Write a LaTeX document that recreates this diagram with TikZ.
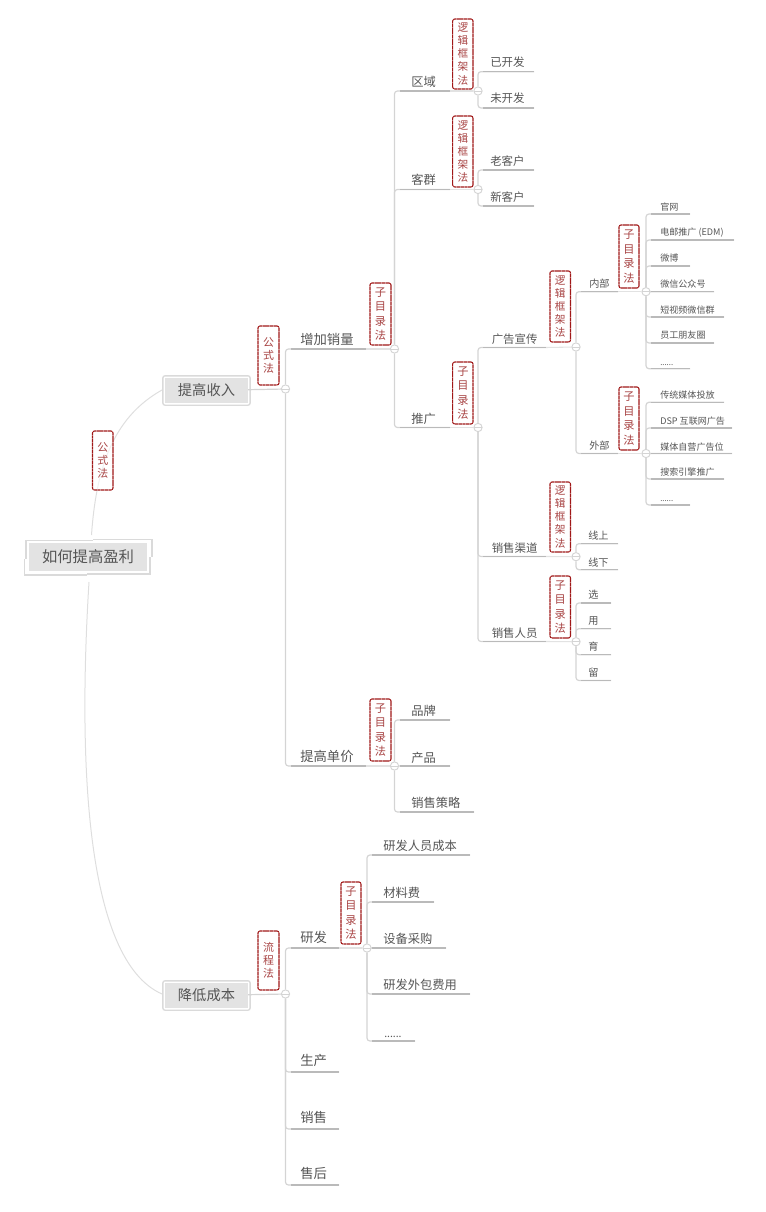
\documentclass[tikz,border=0pt]{standalone}
\usepackage{fontspec}
\setmainfont{Noto Sans CJK SC}
\definecolor{txt}{HTML}{555555}
\definecolor{trunk}{HTML}{D4D4D4}
\definecolor{under}{HTML}{BABABA}
\definecolor{stub}{HTML}{E2E2E2}
\definecolor{curve}{HTML}{DEDEDE}
\definecolor{redbd}{HTML}{A01818}
\definecolor{redtx}{HTML}{A84444}
\definecolor{boxbd}{HTML}{DADADA}
\definecolor{boxfl}{HTML}{E3E3E3}
\pgfdeclarelayer{front}
\pgfsetlayers{main,front}
\tikzset{
 tA/.style={font=\fontsize{10}{12}\selectfont,text=txt,inner sep=0pt},
 tB/.style={font=\fontsize{9.2}{11}\selectfont,text=txt,inner sep=0pt},
 tC/.style={font=\fontsize{8.6}{10}\selectfont,text=txt,inner sep=0pt,xshift=0.75pt},
 tD/.style={font=\fontsize{7.6}{9}\selectfont,text=txt,inner sep=0pt,xshift=0.75pt},
 tE/.style={font=\fontsize{6.8}{8}\selectfont,text=txt,inner sep=0pt,xshift=0.75pt},
 tBd/.style={font=\fontsize{7.8}{9}\selectfont,text=txt,inner sep=0pt},
 tEd/.style={font=\fontsize{5.8}{7}\selectfont,text=txt,inner sep=0pt,xshift=0.75pt},
 trunkline/.style={draw=trunk,line width=0.9pt,rounded corners=2.2pt},
 underline/.style={draw=under,line width=0.9pt},
 stubline/.style={draw=stub,line width=0.8pt},
 curveline/.style={draw=curve,line width=0.75pt},
 fold/.style={circle,draw=trunk,fill=white,line width=0.7pt,minimum size=6.2pt,inner sep=0pt,
   path picture={\draw[trunk,line width=0.5pt] (path picture bounding box.west) -- (path picture bounding box.east);}},
 mainbox/.style={fill=boxfl,inner sep=0pt,text=txt},
 frame/.style={draw=boxbd,line width=1pt,rounded corners=1.5pt},
 tag/.style={draw=redbd,fill=white,fill opacity=0.6,text opacity=1,line width=0.8pt,rounded corners=1.5pt,dash pattern=on 2.4pt off 0.35pt,text=redtx,align=center,inner sep=0pt},
 tagS/.style={tag,font=\fontsize{8}{9.8}\selectfont},
 tagL/.style={tag,font=\fontsize{8.4}{10.8}\selectfont},
 tagF/.style={tag,font=\fontsize{8.2}{9.8}\selectfont},
}
% name, parent fold, style, text x, baseline y, line y, line end x, text
\newcommand\topic[8]{%
 \node[#3,anchor=base west] (#1) at (#4-1,#5) {#8};
 \coordinate (#1-e) at (#7,#6);
 \draw[trunkline] (#2) |- (#1-e);
 \draw[underline] ([xshift=4pt]#2.center |- #1-e) -- (#1-e);
}
% name, x0, x1, y0, y1, style, text
\newcommand\redtag[7]{%
 \node[#6,minimum width={(#3-#2)*0.75pt},minimum height={(#5-#4)*0.75pt}] (#1) at ({(#2+#3)/2},{(#4+#5)/2}) {#7};
}
\newcommand\foldat[3]{\begin{pgfonlayer}{front}\node[fold] (#1) at (#2,#3) {};\end{pgfonlayer}}
\begin{document}
\begin{tikzpicture}[x=0.75pt,y=-0.75pt]
\useasboundingbox (0,0) rectangle (766,1212);
% fold marks
\foldat{f1}{285.5}{389}
\foldat{f2}{394.5}{349}
\foldat{f3}{478}{91}
\foldat{f4}{478}{189.5}
\foldat{f5}{478}{427.5}
\foldat{f6}{576}{347}
\foldat{f7}{646}{291.7}
\foldat{f8}{646}{453.5}
\foldat{f9}{576}{556.7}
\foldat{f10}{576}{641.7}
\foldat{f11}{394.5}{766}
\foldat{f12}{367}{948}
\foldat{f13}{285.5}{994}
% main boxes
\node[mainbox,font=\fontsize{10.7}{13}\selectfont,minimum width=62.2pt,minimum height=18.8pt] (income) at (206.5,390.5) {提高收入};
\node[mainbox,font=\fontsize{10.7}{13}\selectfont,minimum width=62.2pt,minimum height=18.8pt] (cost) at (206.5,995.5) {降低成本};
\draw[frame] ([xshift=-1.4pt,yshift=1.4pt]income.north west) rectangle ([xshift=1.4pt,yshift=-1.4pt]income.south east);
\draw[frame] ([xshift=-1.4pt,yshift=1.4pt]cost.north west) rectangle ([xshift=1.4pt,yshift=-1.4pt]cost.south east);
\node[fill=boxfl,inner sep=0pt,minimum width=88.5pt,minimum height=21pt,font=\fontsize{11.5}{14}\selectfont,text=txt] (root) at (88,557) {如何提高盈利};
\draw[draw=boxbd,line width=0.9pt] (26,559) -- (26,540.7) -- (93,540.7);
\draw[draw=boxbd,line width=0.9pt] (93,539.3) -- (152,539.3) -- (152,557);
\draw[draw=boxbd,line width=0.9pt] (150,557) -- (150,574) -- (87,574);
\draw[draw=boxbd,line width=0.9pt] (87,575) -- (24.5,575) -- (24.5,559);
% curves
\coordinate (rootT) at (91.5,535);
\coordinate (rootB) at (89,582);
\coordinate (incW) at (162,390);
\coordinate (costW) at (162,994);
\draw[curveline] (rootT) .. controls (96,470) and (112,418) .. (incW);
\draw[curveline] (rootB) .. controls (78,760) and (85,960) .. (costW);
% stubs
\draw[trunkline] (income) -- (f1);
\draw[trunkline] (cost) -- (f13);
% level 2
\topic{sales}{f1}{tA}{301}{344}{349}{366}{增加销量}
\topic{price}{f1}{tA}{301}{761}{766}{366}{提高单价}
\topic{rd}{f13}{tA}{301}{942}{948}{339}{研发}
\topic{prod}{f13}{tA}{301}{1065}{1072}{339}{生产}
\topic{sell}{f13}{tA}{301}{1122}{1129}{339}{销售}
\topic{after}{f13}{tA}{301}{1178}{1185}{339}{售后}
% level 3
\topic{region}{f2}{tB}{412}{87}{91}{450}{区域}
\topic{cust}{f2}{tB}{412}{185}{189.5}{450}{客群}
\topic{promo}{f2}{tB}{412}{423}{427.5}{450}{推广}
\topic{brand}{f11}{tB}{412}{715}{720}{450}{品牌}
\topic{product}{f11}{tB}{412}{762}{766}{450}{产品}
\topic{strategy}{f11}{tB}{412}{807}{812}{474}{销售策略}
\topic{staff}{f12}{tB}{384}{850}{855}{470}{研发人员成本}
\topic{material}{f12}{tB}{384}{897}{902}{434}{材料费}
\topic{equip}{f12}{tB}{384}{943}{948}{446}{设备采购}
\topic{outs}{f12}{tB}{384}{989}{994}{470}{研发外包费用}
\topic{etc1}{f12}{tBd}{385}{1037}{1041}{415}{......}
% level 4
\topic{yk}{f3}{tC}{490}{66.3}{71.7}{534}{已开发}
\topic{wk}{f3}{tC}{490}{103}{108}{534}{未开发}
\topic{old}{f4}{tC}{490}{166}{170}{534}{老客户}
\topic{new}{f4}{tC}{490}{202}{206}{534}{新客户}
\topic{ad}{f5}{tC}{491.5}{343}{347.5}{546}{广告宣传}
\topic{chan}{f5}{tC}{491.5}{552}{556.5}{546}{销售渠道}
\topic{people}{f5}{tC}{491.5}{637}{641.5}{546}{销售人员}
% level 5
\topic{inner}{f6}{tD}{589}{287.5}{291.7}{618}{内部}
\topic{outer}{f6}{tD}{589}{449.5}{453.5}{618}{外部}
\topic{online}{f9}{tD}{588}{539.5}{543.7}{618}{线上}
\topic{offline}{f9}{tD}{588}{566}{569.7}{618}{线下}
\topic{xuan}{f10}{tD}{588}{598}{603}{611}{选}
\topic{yong}{f10}{tD}{588}{624}{628.7}{611}{用}
\topic{yu}{f10}{tD}{588}{650}{654.7}{611}{育}
\topic{liu}{f10}{tD}{588}{676}{680.5}{611}{留}
% level 6
\topic{web}{f7}{tE}{660}{210.5}{214}{690}{官网}
\topic{edm}{f7}{tE}{660}{236}{240}{734}{电邮推广 (EDM)}
\topic{weibo}{f7}{tE}{660}{261.5}{266}{690}{微博}
\topic{wechat}{f7}{tE}{660}{287.5}{291.7}{714}{微信公众号}
\topic{video}{f7}{tE}{660}{313}{317}{724}{短视频微信群}
\topic{friends}{f7}{tE}{660}{339}{343}{714}{员工朋友圈}
\topic{etc2}{f7}{tEd}{660}{365}{368.7}{690}{......}
\topic{trad}{f8}{tE}{660}{398}{402.3}{724}{传统媒体投放}
\topic{dsp}{f8}{tE}{660}{424}{428}{732}{DSP 互联网广告}
\topic{self}{f8}{tE}{660}{450}{453.5}{732}{媒体自营广告位}
\topic{search}{f8}{tE}{660}{475.5}{479}{724}{搜索引擎推广}
\topic{etc3}{f8}{tEd}{660}{501.5}{505}{690}{......}
% faint stubs from each topic to its fold
\foreach \a/\b in {sales/f2,price/f11,region/f3,cust/f4,promo/f5,ad/f6,chan/f9,people/f10,inner/f7,outer/f8,rd/f12}
  \draw[stubline] (\a-e) -- (\b);
% tags
\redtag{t1}{92.5}{113}{431}{490}{tagF}{公\\式\\法}
\redtag{t2}{258}{279}{326}{385}{tagF}{公\\式\\法}
\redtag{t3}{370}{391}{283}{345}{tagL}{子\\目\\录\\法}
\redtag{t4}{452.7}{473}{19}{89}{tagS}{逻\\辑\\框\\架\\法}
\redtag{t5}{452.7}{473}{116}{187}{tagS}{逻\\辑\\框\\架\\法}
\redtag{t6}{452.7}{473}{362}{424}{tagL}{子\\目\\录\\法}
\redtag{t7}{550}{570.5}{271}{342}{tagS}{逻\\辑\\框\\架\\法}
\redtag{t8}{619}{639}{225}{288}{tagL}{子\\目\\录\\法}
\redtag{t9}{619}{639}{387}{450}{tagL}{子\\目\\录\\法}
\redtag{t10}{550}{570.5}{482}{552}{tagS}{逻\\辑\\框\\架\\法}
\redtag{t11}{550}{570.5}{576}{638}{tagL}{子\\目\\录\\法}
\redtag{t12}{370}{391}{699}{761}{tagL}{子\\目\\录\\法}
\redtag{t13}{341}{361}{882}{944}{tagL}{子\\目\\录\\法}
\redtag{t14}{258}{279}{931}{990}{tagF}{流\\程\\法}
\end{tikzpicture}
\end{document}
